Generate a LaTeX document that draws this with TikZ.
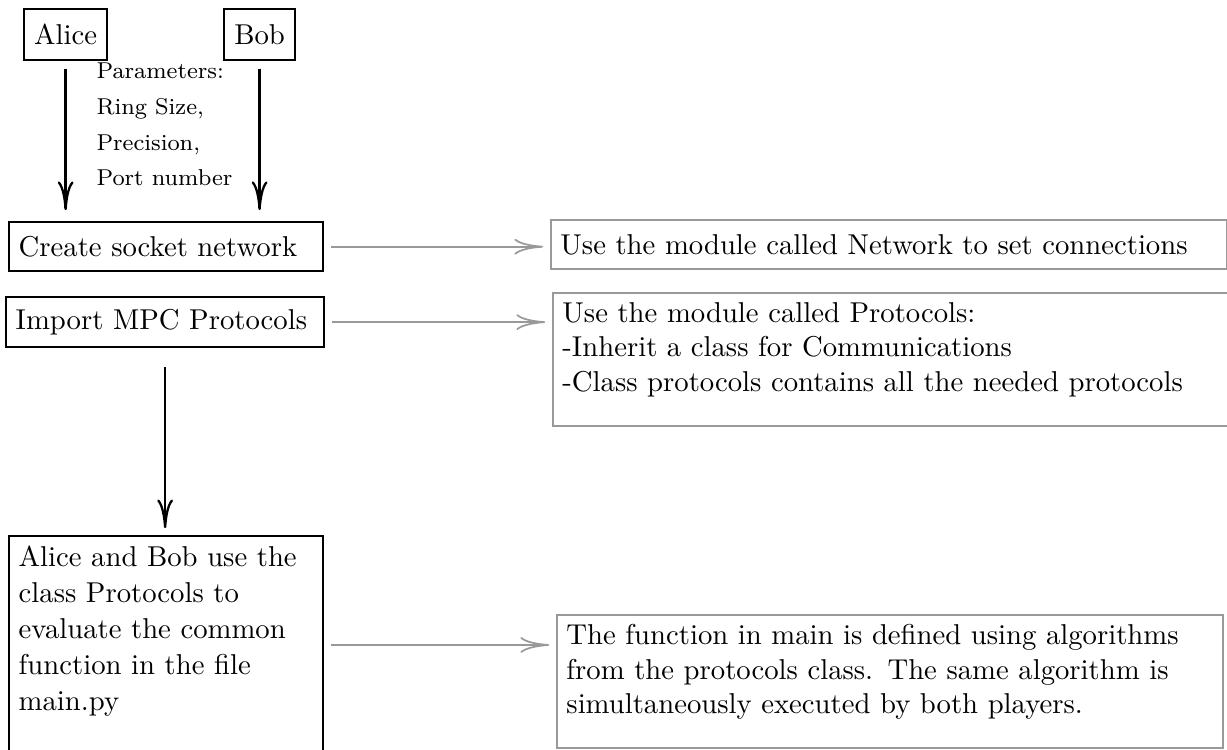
\documentclass[tikz,border=0pt]{standalone}
\usetikzlibrary{arrows.meta}
\begin{document}
\begin{tikzpicture}
  [x=0.3484pt,y=-0.3484pt,>={To[length=10pt,width=5.5pt]},
   player/.style={draw,thick,minimum height=17.8pt,anchor=north west},
   stepbox/.style={draw,thick,align=left,anchor=north west},
   notebox/.style={draw=black!40,semithick,align=left,anchor=north west},
   flow/.style={->,thick},
   link/.style={->,semithick,black!40,shorten <=2.4pt,shorten >=2.4pt}]
\clip (0,0) rectangle (1227,749);
\node (alice)[player,minimum width=28.9pt] at (23,8) {Alice};
  \node (bob)[player,minimum width=24.7pt] at (223,8) {Bob};
  \node (params)[font=\footnotesize,align=left,anchor=north west,inner sep=0pt] at (96,62)
    {Parameters:\\[3pt] Ring Size,\\[3pt] Precision,\\[3pt] Port number};
  \node (socket)[stepbox,text width=102.7pt,minimum height=17.1pt] at (8,221) {Create socket network};
  \node (import)[stepbox,text width=104.1pt,minimum height=17.4pt] at (5,296) {Import MPC Protocols};
  \node (evaluate)[stepbox,text width=102.7pt,text depth=62pt] at (8,535)
    {Alice and Bob use the\\[0.6pt] class Protocols to\\[0.6pt] evaluate the common\\[0.6pt] function in the file\\[0.6pt] main.py};
  \node (netnote)[notebox,text width=228.8pt,minimum height=17.1pt] at (550,219)
    {Use the module called Network to set connections};
  \node (protnote)[notebox,text width=228.5pt,text depth=32.7pt] at (552,292)
    {Use the module called Protocols:\\ -Inherit a class for Communications\\ -Class protocols contains all the needed protocols};
  \node (funcnote)[notebox,text width=225.3pt,text depth=32.7pt] at (556,614)
    {The function in main is defined using algorithms\\ from the protocols class. The same algorithm is\\ simultaneously executed by both players.};
 \foreach \from in {alice,bob}
    \draw[flow,shorten <=2.5pt,shorten >=3.8pt] (\from) -- (\from |- socket.north);
 \draw[flow,shorten <=6.6pt,shorten >=2.4pt] (import) -- (import |- evaluate.north);
 \foreach \from/\to in {socket/netnote,import/protnote,evaluate/funcnote}
    \draw[link] (\from.east) -- (\from.east -| \to.west);

\end{tikzpicture}
\end{document}
